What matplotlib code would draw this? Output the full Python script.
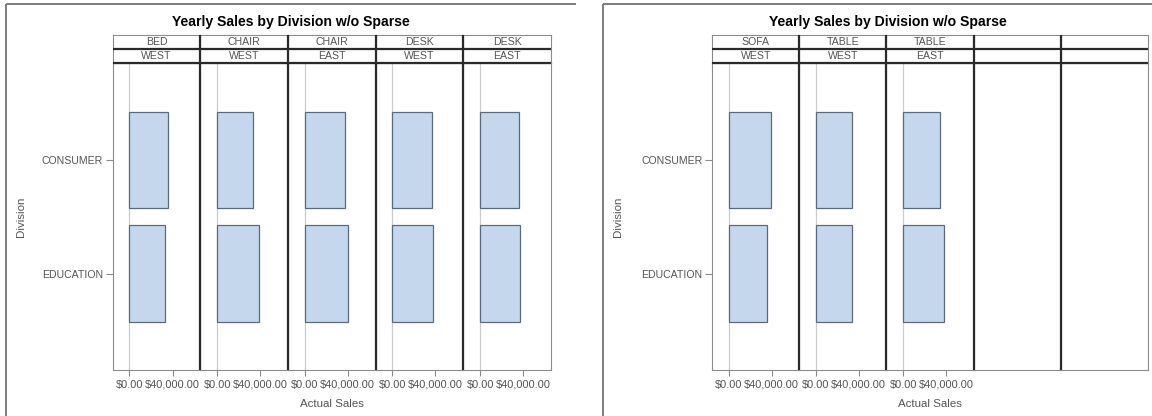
import matplotlib
matplotlib.use("Agg")
import matplotlib.pyplot as plt
from matplotlib.lines import Line2D

plt.rcParams['font.family'] = ['Liberation Sans', 'DejaVu Sans']

# ---- data ----
divisions = ["CONSUMER", "EDUCATION"]
left_products = ["BED", "CHAIR", "CHAIR", "DESK", "DESK"]
left_regions = ["WEST", "WEST", "EAST", "WEST", "EAST"]
left_consumer = [35800, 33200, 37000, 37200, 36300]
left_education = [32600, 39300, 40000, 37600, 37500]
right_products = ["SOFA", "TABLE", "TABLE"]
right_regions = ["WEST", "WEST", "EAST"]
right_consumer = [39700, 34100, 34400]
right_education = [35300, 33500, 38000]
x_ticks = [0, 40000]
x_tick_labels = ["$0.00", "$40,000.00"]
title_text = "Yearly Sales by Division w/o Sparse"
x_label = "Actual Sales"
y_label = "Division"

W, H = 1152, 416
fig = plt.figure(figsize=(W / 100, H / 100), dpi=100)
fig.patch.set_facecolor("white")

def px(v):
    return v * 0.72

TXT = "#555555"
BAR_FILL = "#c4d7ec"
BAR_EDGE = "#5c6b7c"
SEP = "#2a2a2a"
EDGE = "#8c8c8c"

def fline(x0, y0, x1, y1, color, lw):
    fig.add_artist(Line2D([x0 / W, x1 / W], [1 - y0 / H, 1 - y1 / H],
                          transform=fig.transFigure, color=color, lw=lw,
                          solid_capstyle="butt"))

def add_ax(x, y, w, h):
    return fig.add_axes([x / W, 1 - (y + h) / H, w / W, h / H])

def draw_chart(fx, plot_left, plot_right, products, regions, consumer, education):
    head_top, head_mid, plot_top, plot_bot = 35.0, 49.3, 63.3, 370.0
    n = 5
    pw = (plot_right - plot_left) / n
    # outer frame (top and left only, as in the screenshot)
    fline(fx, 4, fx + 570, 4, "#666666", 1.2)
    fline(fx, 4, fx, H, "#666666", 1.2)
    fig.text((fx + 285) / W, 1 - 22 / H, title_text, ha="center", va="center",
             fontsize=px(14), fontweight="bold", color="black")
    for i in range(n):
        x = plot_left + i * pw
        ax = add_ax(x, plot_top, pw, plot_bot - plot_top)
        ax.set_xlim(-15600, 65900)
        ax.set_ylim(1.845, -0.85)
        for s in ax.spines.values():
            s.set_color(EDGE)
            s.set_linewidth(0.8)
        if i < len(products):
            ax.axvline(0, color="#cccccc", lw=0.9, zorder=0)
            ax.barh([0, 1], [consumer[i], education[i]], height=0.85,
                    color=BAR_FILL, edgecolor=BAR_EDGE, linewidth=0.9, zorder=2)
            ax.set_xticks(x_ticks)
            ax.set_xticklabels(x_tick_labels, fontsize=px(11), color=TXT)
            ax.tick_params(axis="x", length=4, color=EDGE, width=0.8, pad=3)
        else:
            ax.set_xticks([])
        if i == 0:
            ax.set_yticks([0, 1])
            ax.set_yticklabels(divisions, fontsize=px(10.5), color=TXT)
            ax.tick_params(axis="y", length=5, color=EDGE, width=0.8, pad=2)
        else:
            ax.set_yticks([])
        # header
        hx = add_ax(x, head_top, pw, plot_top - head_top)
        hx.set_xlim(0, 1)
        hx.set_ylim(0, 2)
        hx.set_xticks([])
        hx.set_yticks([])
        for s in hx.spines.values():
            s.set_color(EDGE)
            s.set_linewidth(0.8)
        if i < len(products):
            hx.text(0.5, 1.5, products[i], ha="center", va="center",
                    fontsize=px(10.5), color=TXT)
            hx.text(0.5, 0.5, regions[i], ha="center", va="center",
                    fontsize=px(10.5), color=TXT)
    # dark separators
    for i in range(1, n):
        xx = plot_left + i * pw
        fline(xx, head_top, xx, plot_bot, SEP, 1.6)
    fline(plot_left, head_mid, plot_right, head_mid, SEP, 1.6)
    fline(plot_left, plot_top, plot_right, plot_top, SEP, 1.6)
    # axis labels
    fig.text((plot_left + plot_right) / 2 / W, 1 - 404 / H, x_label,
             ha="center", va="center", fontsize=px(11.5), color=TXT)
    fig.text((fx + 15) / W, 1 - 217 / H, y_label, ha="center", va="center",
             rotation=90, fontsize=px(11.5), color=TXT)

draw_chart(6, 112.7, 551.0, left_products, left_regions, left_consumer, left_education)
draw_chart(603, 712.3, 1147.7, right_products, right_regions, right_consumer, right_education)

fig.savefig("out.png", dpi=100, facecolor="white")
